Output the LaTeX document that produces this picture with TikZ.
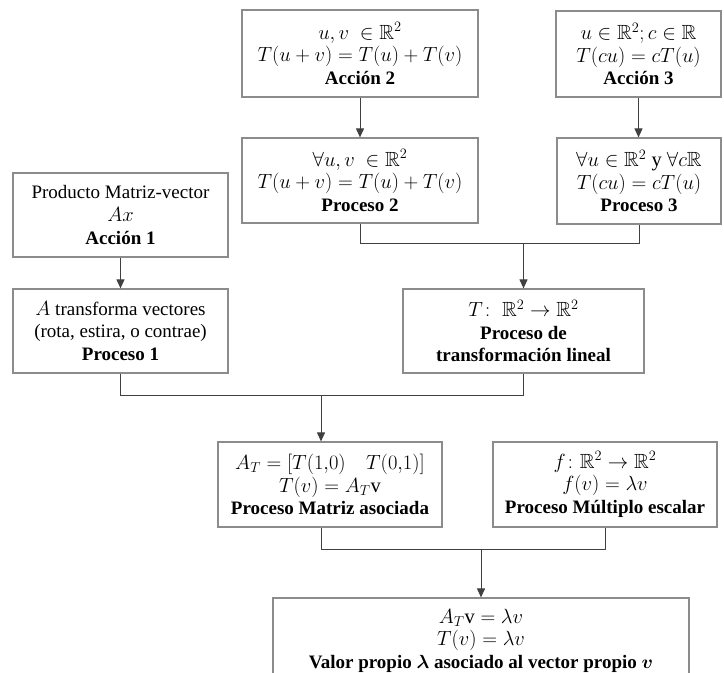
\documentclass[tikz,border=0pt]{standalone}
\RequirePackage{fix-cm}
\usepackage{amsmath,amssymb}
\usepackage{fontspec}
\setmainfont{Liberation Serif}
\usetikzlibrary{arrows.meta}

\definecolor{boxline}{gray}{0.55}
\definecolor{linkline}{gray}{0.25}

% formula lines are set a little larger than the surrounding text
\newcommand\fml[1]{{\fontsize{20.5bp}{22.5bp}\selectfont#1}}

\begin{document}
\begin{tikzpicture}[x=1bp, y=-1bp,
  box/.style={draw=boxline, line width=1.2bp, fill=white, align=flush center,
    inner sep=0pt, font=\fontsize{19bp}{22.5bp}\selectfont},
  size/.style 2 args={minimum width=#1, text width=#1, minimum height=#2},
  link/.style={draw=linkline, line width=1bp},
  arr/.style={link, -{Triangle[width=8bp,length=9bp]}}]

\useasboundingbox (0,0) rectangle (724,673);

% actions and processes
\node[box, size={236bp}{87bp}] (a2) at (360,53.5)
  {\fml{$u,v\ \in\mathbb{R}^2$}\\ \fml{$T(u+v)=T(u)+T(v)$}\\ \textbf{Acción 2}};
\node[box, size={165bp}{86bp}] (a3) at (638.5,54)
  {\fml{$u\in\mathbb{R}^2;c\in\mathbb{R}$}\\ \fml{$T(cu)=cT(u)$}\\ \textbf{Acción 3}};
\node[box, size={236bp}{85bp}] (p2) at (360,180.5)
  {\fml{$\forall u,v\ \in\mathbb{R}^2$}\\ \fml{$T(u+v)=T(u)+T(v)$}\\ \textbf{Proceso 2}};
\node[box, size={164bp}{86bp}] (p3) at (639,181)
  {\fml{$\forall u\in\mathbb{R}^2$ y $\forall c\mathbb{R}$}\\ \fml{$T(cu)=cT(u)$}\\ \textbf{Proceso 3}};
\node[box, size={215bp}{84bp}] (a1) at (120.5,215)
  {Producto Matriz-vector\\ \fml{$Ax$}\\ \textbf{Acción 1}};
\node[box, size={215bp}{84bp}] (p1) at (120.5,331)
  {\fml{$A$} transforma vectores\\ (rota, estira, o contrae)\\ \textbf{Proceso 1}};
\node[box, size={241bp}{84bp}] (t) at (523.5,331)
  {\fml{$T\colon\ \mathbb{R}^2\to\mathbb{R}^2$}\\ \textbf{Proceso de}\\ \textbf{transformación lineal}};
\node[box, size={224bp}{85bp}] (at) at (330,484.5)
  {\fml{$A_T=[T(1{,}0)\quad T(0{,}1)]$}\\ \fml{$T(v)=A_T\mathrm{v}$}\\ \textbf{Proceso Matriz asociada}};
\node[box, size={224bp}{85bp}] (f) at (605,484.5)
  {\fml{$f\colon\mathbb{R}^2\to\mathbb{R}^2$}\\ \fml{$f(v)=\lambda v$}\\ \textbf{Proceso Múltiplo escalar}};
\node[box, size={416bp}{85bp}] (fin) at (481,640.5)
  {\fml{$A_T\mathrm{v}=\lambda v$}\\ \fml{$T(v)=\lambda v$}\\
   \textbf{Valor propio $\boldsymbol{\lambda}$ asociado al vector propio $\boldsymbol{v}$}};

% junction points of the merging connectors
\coordinate (j1) at (523.5,243);
\coordinate (j2) at (321,395);
\coordinate (j3) at (481,549);

% straight arrows
\draw[arr] (a2) -- (p2);
\draw[arr] (a3.south) -- (a3.south |- p3.north);
\draw[arr] (a1) -- (p1);

% Proceso 2 + Proceso 3 -> transformacion lineal
\draw[link] (p2.south) |- (p3.south |- j1) -- (p3.south);
\draw[arr] (j1) -- (t.north);

% Proceso 1 + transformacion lineal -> matriz asociada
\draw[link] (p1.south) |- (t.south |- j2) -- (t.south);
\draw[arr] (j2) -- (j2 |- at.north);

% matriz asociada + multiplo escalar -> valor propio
\draw[link] (at.south -| j2) |- (f.south |- j3) -- (f.south);
\draw[arr] (j3) -- (fin.north);
\end{tikzpicture}
\end{document}
